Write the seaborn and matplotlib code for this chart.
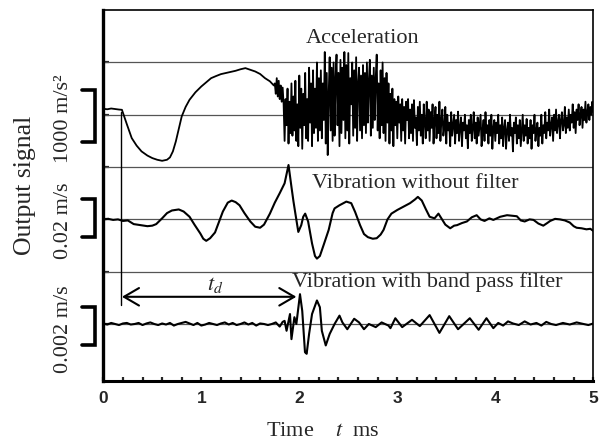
import numpy as np
import matplotlib
matplotlib.use('Agg')
import matplotlib.pyplot as plt
import seaborn as sns

# Acceleration in m/s^2 (1000 m/s^2 = one grid division)
acc_t_smooth = [0.00, 0.04, 0.08, 0.12, 0.16, 0.19, 0.24, 0.29, 0.34, 0.39,
                0.45, 0.50, 0.55, 0.60, 0.65, 0.68, 0.71, 0.74, 0.77, 0.80,
                0.84, 0.88, 0.94, 1.00, 1.05, 1.10, 1.15, 1.20, 1.28, 1.35,
                1.40, 1.45, 1.50, 1.55, 1.60, 1.65, 1.70, 1.74]
acc_v_smooth = [115, 105, 120, 110, 100, 95, -180, -446, -590, -700,
                -780, -828, -860, -880, -860, -815, -700, -510, -270, -32,
                150, 287, 430, 541, 620, 700, 740, 777, 810, 841,
                870, 892, 860, 828, 780, 700, 640, 560]
# noisy part, one value every 0.01 ms from 1.75 to 5.00 ms
acc_v_noisy = [
    600, 400, 700, 350, 650, 300, 560, 250, 520, 200,
    -500, 300, -200, 500, -550, 250, -350, 600, -400, 350,
    -300, 650, -500, 200, -600, 750, -250, 500, -650, 400,
    -200, 800, -450, 300, -500, 900, -150, 600, -600, 850,
    -350, 500, -250, 1000, -500, 700, -300, 850, -450, 600,
    -100, 1200, -550, 800, -770, 400, 1100, -300, 900, -500,
    1000, -400, 700, 1150, -200, 800, -600, 1050, -350, 900,
    -100, 1200, -450, 950, -300, 1180, -550, 700, 200, 1000,
    -400, 850, -250, 1100, -500, 600, 900, -300, 750, -450,
    950, -200, 800, -350, 1000, -150, 650, 1050, -400, 750,
    -250, 900, -100, 700, 1150, -300, 600, -450, 850, -200,
    1000, -350, 700, -500, 800, -150, 600, -550, 400, -300,
    500, -600, 300, -200, 250, -450, 350, -150, 200, -500,
    300, -300, 150, -550, 250, -100, 300, -450, 100, -350,
    200, -500, 280, -250, -50, -580, 150, -300, 250, -400,
    0, -550, 200, -150, -450, 250, -300, 100, -500, 50,
    -250, 200, -550, -100, 150, -450, 0, -350, 250, -500,
    -100, 100, -400, -250, 150, -550, 0, -300, -150, -600,
    50, -400, -200, 0, -550, -100, -350, 60, -500, -250,
    -50, -600, -150, -300, 0, -450, -200, -640, -100, -350,
    0, -500, -250, 50, -450, -150, -550, -50, -400, -200,
    0, -600, -300, -100, -500, 50, -350, -200, -550, -100,
    -400, 0, -650, -250, -100, -500, -150, -350, 0, -550,
    -200, -450, -50, -600, -250, -100, -650, -300, -150, -500,
    0, -400, -250, -700, -150, -350, -50, -550, -200, -450,
    -100, -600, -300, 0, -500, -200, -400, -80, -550, -250,
    -450, -100, -650, -200, -350, 0, -500, -300, -150, -600,
    -250, -400, 0, -550, -200, -350, 50, -450, -150, -300,
    100, -400, -200, -50, -500, 0, -300, 100, -350, -150,
    0, -450, -100, 50, -300, -200, 150, -350, -50, -250,
    100, -300, 0, -150, 200, -250, 50, -350, 100, -100,
    200, -200, 0, 150, -250, 100, -100, 250, -150, 50,
    200, -100, 150, 0, 250, 50]

# Vibration without filter, in grid divisions
vib_t = [0.00, 0.05, 0.10, 0.15, 0.20, 0.25, 0.31, 0.38, 0.45, 0.50,
         0.54, 0.60, 0.65, 0.70, 0.77, 0.82, 0.88, 0.93, 0.99, 1.02,
         1.05, 1.09, 1.14, 1.18, 1.22, 1.27, 1.31, 1.35, 1.39, 1.44,
         1.50, 1.55, 1.60, 1.64, 1.70, 1.75, 1.80, 1.85, 1.89, 1.92,
         1.94, 1.96, 1.99, 2.02, 2.04, 2.06, 2.09, 2.13, 2.16, 2.18,
         2.21, 2.25, 2.30, 2.34, 2.36, 2.41, 2.45, 2.48, 2.53, 2.57,
         2.62, 2.66, 2.70, 2.75, 2.79, 2.83, 2.86, 2.90, 2.94, 3.00,
         3.06, 3.13, 3.18, 3.21, 3.25, 3.29, 3.33, 3.38, 3.42, 3.45,
         3.49, 3.54, 3.58, 3.61, 3.66, 3.71, 3.76, 3.81, 3.85, 3.89,
         3.94, 3.98, 4.05, 4.12, 4.17, 4.22, 4.26, 4.30, 4.35, 4.39,
         4.44, 4.49, 4.53, 4.56, 4.61, 4.66, 4.71, 4.76, 4.80, 4.83,
         4.88, 4.93, 4.97, 5.00]
vib_v = [0.0, 0.01, -0.01, 0.0, -0.03, -0.02, -0.09, -0.11, -0.13, -0.12,
         -0.09, 0.02, 0.12, 0.17, 0.19, 0.15, 0.05, -0.10, -0.27, -0.37,
         -0.41, -0.36, -0.25, -0.05, 0.15, 0.32, 0.36, 0.33, 0.27, 0.12,
         -0.04, -0.14, -0.16, -0.10, 0.11, 0.32, 0.50, 0.69, 1.04, 0.62,
         0.35, 0.11, -0.24, -0.11, 0.05, 0.11, -0.04, -0.46, -0.70, -0.75,
         -0.70, -0.48, -0.20, 0.12, 0.21, 0.27, 0.31, 0.34, 0.31, 0.14,
         -0.11, -0.28, -0.34, -0.37, -0.36, -0.29, -0.20, 0.0, 0.11, 0.18,
         0.24, 0.31, 0.38, 0.43, 0.36, 0.20, 0.05, 0.02, 0.11, 0.02,
         -0.10, -0.17, -0.12, -0.11, -0.07, -0.04, 0.04, 0.08, 0.0, -0.03,
         0.02, -0.01, 0.05, 0.08, 0.07, 0.06, -0.02, -0.04, 0.0, -0.01,
         -0.08, -0.12, -0.07, -0.03, 0.01, 0.0, -0.02, -0.06, -0.13, -0.16,
         -0.17, -0.19, -0.18, -0.22]

# Vibration with band pass filter, in grid divisions
# quiet part, one value every 0.04 ms from 0 to 1.68 ms
bp_v_quiet = [0.01, -0.01, 0.02, 0.0, -0.02, 0.01, 0.02, -0.01, 0.0, 0.02,
              -0.02, 0.01, 0.03, 0.0, -0.02, 0.01, -0.01, 0.02, -0.03, 0.0,
              0.02, 0.04, 0.01, -0.02, 0.02, -0.03, -0.01, 0.02, 0.0, -0.02,
              0.01, 0.03, -0.01, 0.02, -0.02, 0.0, 0.03, -0.01, 0.02, -0.03,
              0.01, 0.0, -0.02]
bp_t_burst = [1.72, 1.76, 1.80, 1.83, 1.85, 1.87, 1.905, 1.92, 1.95, 1.97,
              2.007, 2.03, 2.058, 2.075, 2.10, 2.13, 2.18, 2.21, 2.23, 2.27,
              2.31, 2.36, 2.41, 2.44, 2.49, 2.56, 2.61, 2.66, 2.71, 2.78,
              2.84, 2.91, 2.93, 2.98, 3.05, 3.15, 3.23, 3.33, 3.43, 3.53,
              3.62, 3.74, 3.83, 3.91, 3.98, 4.03, 4.08, 4.13, 4.18, 4.24,
              4.30, 4.36, 4.42, 4.47, 4.52, 4.57, 4.62, 4.69, 4.76, 4.83,
              4.90, 4.95, 5.00]
bp_v_burst = [0.0, 0.03, -0.05, 0.04, 0.06, -0.13, 0.19, -0.29, 0.13, 0.0,
              0.57, 0.25, -0.54, -0.57, -0.19, 0.19, 0.45, 0.32, -0.13, -0.41,
              -0.19, 0.0, 0.16, 0.03, -0.10, 0.10, 0.03, -0.10, 0.0, -0.06,
              0.03, -0.03, -0.08, 0.11, -0.06, 0.08, -0.04, 0.17, -0.17, 0.15,
              -0.10, 0.11, -0.11, 0.11, -0.08, 0.02, -0.03, 0.05, 0.01, -0.02,
              0.05, -0.01, 0.02, -0.03, 0.04, 0.0, -0.02, 0.02, -0.01, 0.03,
              0.0, -0.02, 0.01]

baselines = [5, 3, 1]
names = ['Acceleration', 'Vibration without filter', 'Vibration with band pass filter']
scale_labels = ['1000 m/s\u00b2', '0.02 m/s', '0.002 m/s']
bar_centers = [4.98, 3.03, 0.96]
bar_lengths = [1.0, 0.725, 0.725]
t_delay = [0.19, 1.97]

sns.set_theme(style='white')
plt.rcParams['font.family'] = ['Liberation Serif', 'DejaVu Serif']
plt.rcParams['mathtext.fontset'] = 'stix'

fig = plt.figure(figsize=(6.07, 4.42), dpi=100)
ax = fig.add_axes([0.1702, 0.138, 0.8072, 0.839])

# grid lines
for yg in range(1, 7):
    ax.axhline(yg, color='#555555', lw=0.9, zorder=1)

# signals
acc_t = np.concatenate([acc_t_smooth, np.linspace(1.75, 5.0, len(acc_v_noisy))])
acc_v = np.concatenate([acc_v_smooth, acc_v_noisy]) / 1000.0
sns.lineplot(x=acc_t, y=acc_v + baselines[0], ax=ax, color='black', lw=1.3,
             sort=False, estimator=None)

sns.lineplot(x=vib_t, y=np.array(vib_v) + baselines[1], ax=ax, color='black',
             lw=1.5, sort=False, estimator=None)

bp_t = np.concatenate([np.linspace(0, 1.68, len(bp_v_quiet)), bp_t_burst])
bp_v = np.concatenate([bp_v_quiet, bp_v_burst])
sns.lineplot(x=bp_t, y=bp_v + baselines[2], ax=ax, color='black', lw=1.5,
             sort=False, estimator=None)

# trigger line and delay arrow
ax.plot([0.18, 0.18], [5.05, 1.36], color='black', lw=1.0)
ax.annotate('', xy=(t_delay[0], 1.52), xytext=(t_delay[1], 1.52),
            arrowprops=dict(arrowstyle='<->,head_length=0.6,head_width=0.35',
                            lw=1.5, color='black', mutation_scale=18,
                            shrinkA=0, shrinkB=0))
ax.text(1.14, 1.74, '$t_d$', fontsize=16, ha='center', va='center')

# signal names
ax.text(2.65, 6.46, names[0], fontsize=16, ha='center', va='center')
ax.text(3.18, 3.69, names[1], fontsize=16, ha='center', va='center')
ax.text(3.31, 1.80, names[2], fontsize=16, ha='center', va='center')

# scale bars outside the axes
for c, h, lab in zip(bar_centers, bar_lengths, scale_labels):
    top, bot = c + h / 2, c - h / 2
    ax.plot([-0.22, -0.085, -0.085, -0.22], [top, top, bot, bot], color='black',
            lw=2.6, clip_on=False, solid_joinstyle='miter')
    ax.text(-0.41, c - 0.05, lab, rotation=90, fontsize=16, ha='center',
            va='center', clip_on=False)
ax.text(-0.80, 3.65, 'Output signal', rotation=90, fontsize=18.5,
        ha='center', va='center', clip_on=False)

ax.set_xlim(0, 5)
ax.set_ylim(-0.09, 7)
ax.set_xticks(range(6))
ax.set_xticks(np.arange(0, 5.01, 0.2), minor=True)
ax.set_yticks(range(1, 7))
ax.set_yticklabels([])
ax.tick_params(axis='x', which='both', direction='in', length=3, width=1.6,
               bottom=True, pad=7)
ax.tick_params(axis='y', direction='in', length=4, width=1.6, left=True)
for lab in ax.get_xticklabels():
    lab.set_fontfamily('Liberation Sans')
    lab.set_fontweight('bold')
    lab.set_fontsize(12.5)

for side, w in [('left', 2.4), ('bottom', 2.2), ('top', 1.2), ('right', 1.2)]:
    ax.spines[side].set_visible(True)
    ax.spines[side].set_color('black')
    ax.spines[side].set_linewidth(w)
ax.set_xlabel('')
ax.set_ylabel('')

fig.text(0.532, 0.023, 'Time    $t$  ms', fontsize=16, ha='center', va='center')

fig.savefig('out.png', dpi=100)
